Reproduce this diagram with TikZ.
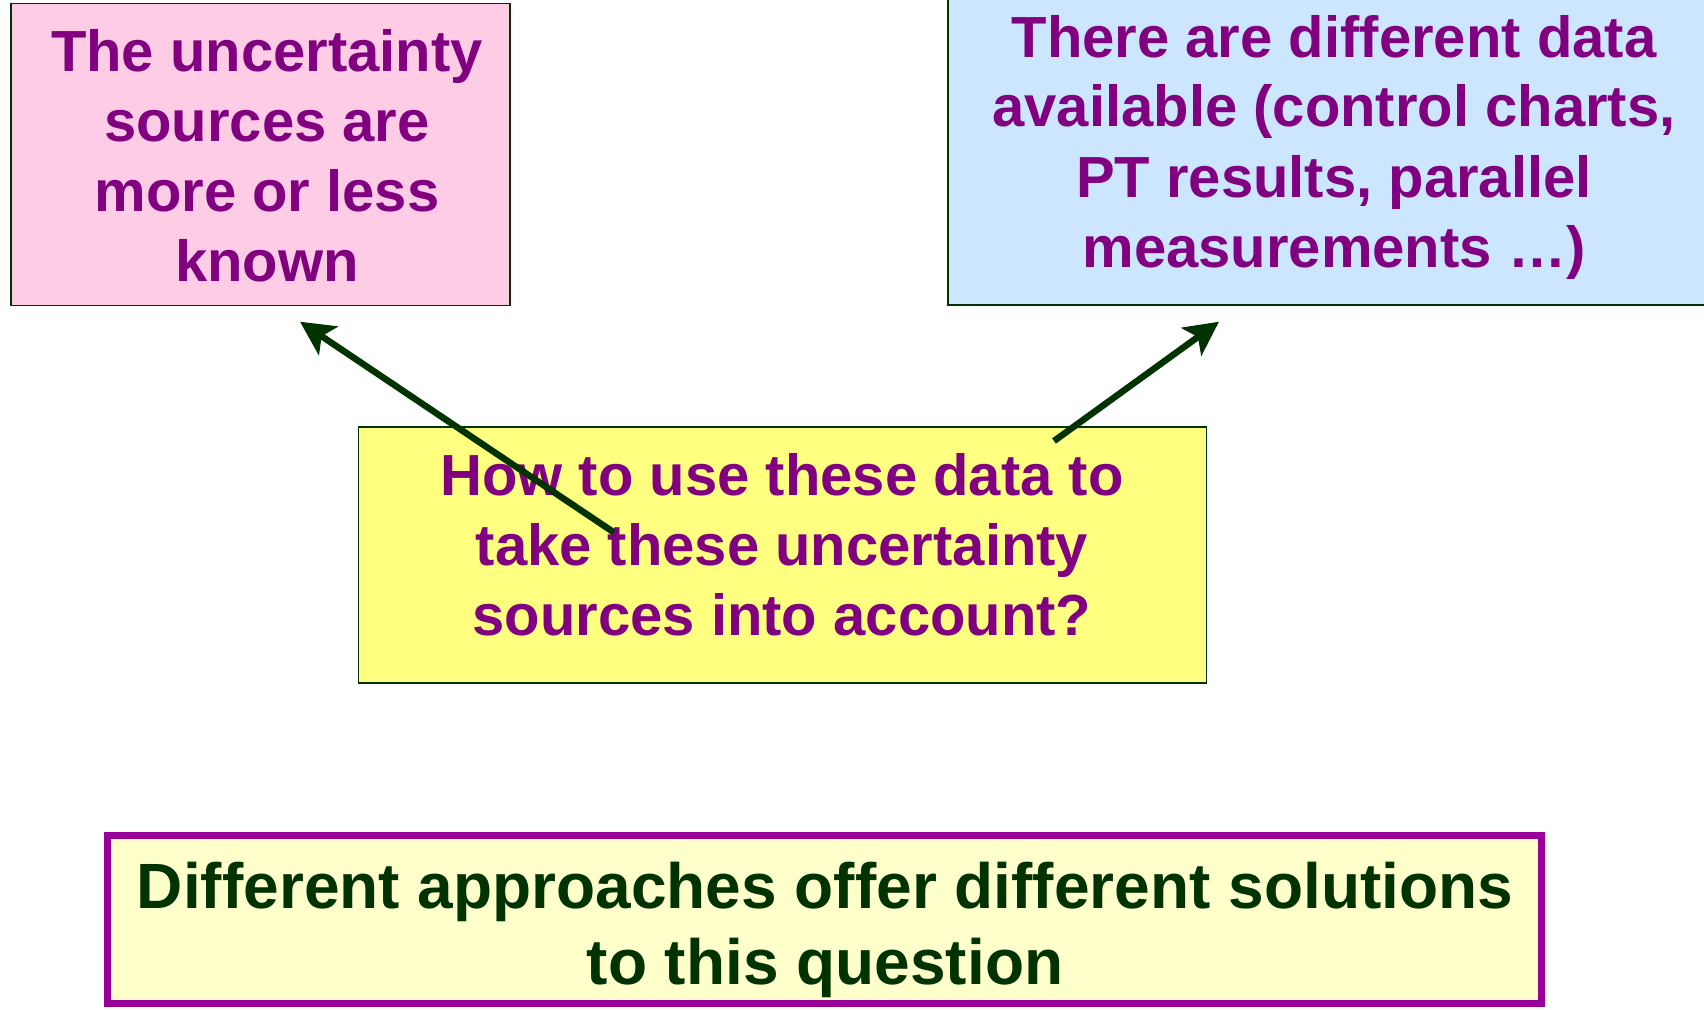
\documentclass[tikz,border=0pt]{standalone}
\usepackage{fontspec}
\setmainfont{Liberation Sans}
\usetikzlibrary{arrows.meta}
\definecolor{txtpurple}{HTML}{800080}
\definecolor{dkgreen}{HTML}{003300}
\definecolor{pinkfill}{HTML}{FFCCE6}
\definecolor{bluefill}{HTML}{CCE6FF}
\definecolor{yellowfill}{HTML}{FFFF80}
\definecolor{paleyellow}{HTML}{FFFFCC}
\definecolor{borderpurple}{HTML}{990099}
\tikzset{
  box/.style={draw=dkgreen, line width=1.8pt, inner sep=0pt},
  txt/.style={text=txtpurple, align=center, inner sep=0pt,
    font=\fontsize{58}{70}\selectfont\bfseries},
  bigtxt/.style={text=dkgreen, align=center, inner sep=0pt,
    font=\fontsize{64}{76}\selectfont\bfseries},
  arr/.style={draw=dkgreen, line width=6.5pt,
    -{Stealth[length=34pt,width=34pt,inset=8pt]}}
}
\begin{document}
\begin{tikzpicture}[x=1pt,y=-1pt]
\useasboundingbox (0,0) rectangle (1704,1009);
\clip (0,0) rectangle (1704,1009);
\fill[white] (0,0) rectangle (1704,1009);
% boxes
\node[box, fill=pinkfill, minimum width=499pt, minimum height=302pt] (pink) at (260.3,154.4) {};
\node[txt] (pinktxt) at (267,156) {The uncertainty\\sources are\\more or less\\known};
\node[box, fill=bluefill, minimum width=772pt, minimum height=330pt] (blue) at (1334,140) {};
\node[txt] (bluetxt) at (1334,147) {There are different data\\available (control charts,\\PT results, parallel\\measurements \dots)};
\node[box, fill=yellowfill, minimum width=848pt, minimum height=256pt] (yellow) at (782.4,555.2) {};
\node[txt] (yellowtxt) at (782,545) {How to use these data to\\take these uncertainty\\sources into account?};
\node[draw=borderpurple, line width=7pt, fill=paleyellow, inner sep=0pt,
  minimum width=1434pt, minimum height=168pt] (bottom) at (824.8,919.5) {};
\node[bigtxt] (bottomtxt) at (825,929.5) {Different approaches offer different solutions\\to this question};
% arrows
\coordinate (a1s) at (614,532.5);
\coordinate (a1e) at (300,321.7);
\coordinate (a2s) at (1054,441);
\coordinate (a2e) at (1219,321.7);
\draw[arr] (a1s) -- (a1e);
\draw[arr] (a2s) -- (a2e);
\end{tikzpicture}
\end{document}
